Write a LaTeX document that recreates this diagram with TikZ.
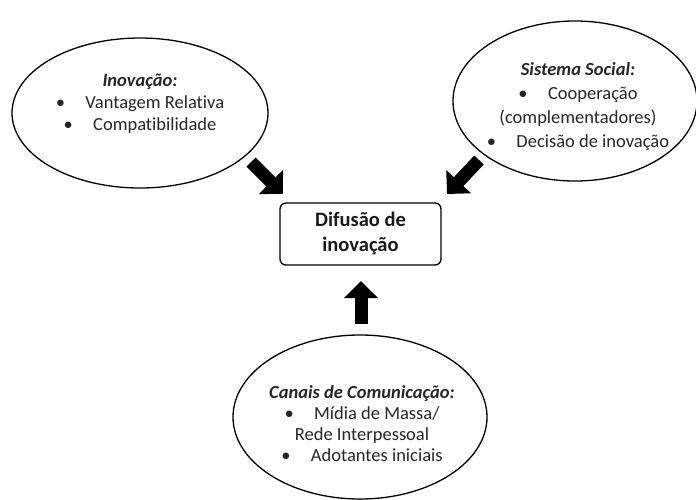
\documentclass[tikz,border=0pt]{standalone}
\usepackage{fontspec}
\setmainfont{Carlito}[Ligatures=NoCommon]
\usetikzlibrary{arrows.meta,shapes.geometric}
\begin{document}
\begin{tikzpicture}[x=1pt,y=-1pt,
  oval/.style={ellipse,draw=black,line width=1.3pt,inner sep=0pt},
  txt/.style={align=center,font=\fontsize{18.5}{22}\selectfont,text=black!85},
  boxnode/.style={draw=black,line width=1.3pt,rounded corners=6pt,minimum width=161pt,minimum height=62pt,align=center,font=\fontsize{20.5}{25}\selectfont\bfseries,text=black!90},
  blockarrow/.style={line width=13pt,-{Triangle[length=17pt,width=33pt]}}]
\useasboundingbox (0,0) rectangle (696,499);
\node[oval,minimum width=256pt,minimum height=150pt] (inov) at (140,113) {};
\node[oval,minimum width=244pt,minimum height=160pt] (soc) at (575,101) {};
\node[oval,minimum width=254pt,minimum height=164pt] (can) at (360,417) {};
\node[boxnode] (dif) at (360.5,234) {Difusão de\\inovação};
\node[txt] (tinov) at (140,104) {\textit{\textbf{Inovação:}}\\\textbullet\hspace{1.1em}Vantagem Relativa\\\textbullet\hspace{1.1em}Compatibilidade};
\node[txt,font=\fontsize{18.5}{24}\selectfont] (tsoc) at (578,107) {\textit{\textbf{Sistema Social:}}\\\textbullet\hspace{1.1em}Cooperação\\(complementadores)\\\textbullet\hspace{1.1em}Decisão de inovação};
\node[txt,font=\fontsize{18.5}{21}\selectfont] (tcan) at (362,424) {\textit{\textbf{Canais de Comunicação:}}\\\textbullet\hspace{1.1em}Mídia de Massa/\\Rede Interpessoal\\\textbullet\hspace{1.1em}Adotantes iniciais};
\coordinate (a1s) at (251,162);
\coordinate (a1e) at (283,194);
\coordinate (a2s) at (479,160);
\coordinate (a2e) at (447,194);
\coordinate (a3s) at (361,324);
\coordinate (a3e) at (361,281);
\draw[blockarrow] (a1s) -- (a1e);
\draw[blockarrow] (a2s) -- (a2e);
\draw[blockarrow] (a3s) -- (a3e);
\end{tikzpicture}
\end{document}
